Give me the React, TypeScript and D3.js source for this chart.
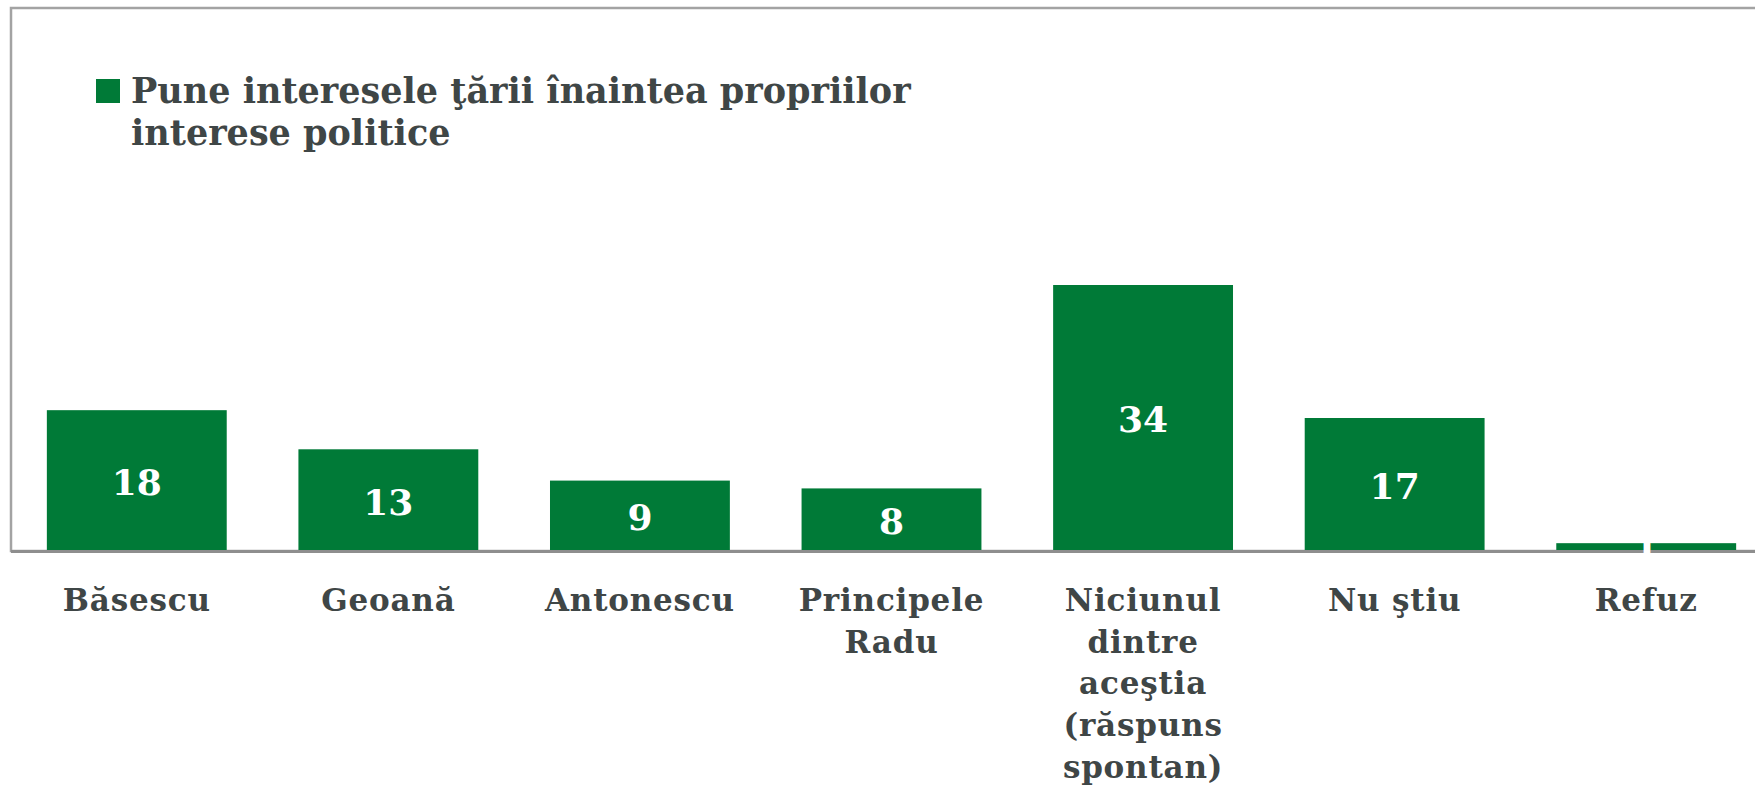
import React from "react";
import * as d3 from "d3";

const categories = [
  "Băsescu",
  "Geoană",
  "Antonescu",
  "Principele Radu",
  "Niciunul dintre aceştia (răspuns spontan)",
  "Nu ştiu",
  "Refuz",
];
const values = [18, 13, 9, 8, 34, 17, 1];
const seriesName = "Pune interesele ţării înaintea propriilor interese politice";
const legendLines = ["Pune interesele ţării înaintea propriilor", "interese politice"];

const W = 1755;
const H = 785;
const GREEN = "#007a37";
const TEXT = "#3f4646";
const FONT = "'DejaVu Serif', Georgia, serif";

function wrap(label: string, maxW: number, font: string): string[] {
  const c = document.createElement("canvas").getContext("2d");
  if (!c) return [label];
  c.font = font;
  const words = label.split(" ");
  const lines: string[] = [];
  let cur = "";
  for (const w of words) {
    const t = cur ? cur + " " + w : w;
    if (cur && c.measureText(t).width > maxW) {
      lines.push(cur);
      cur = w;
    } else cur = t;
  }
  if (cur) lines.push(cur);
  return lines;
}

export default function App() {
  const x = d3
    .scaleBand<string>()
    .domain(categories)
    .range([11, 1772])
    .paddingInner(0.285)
    .paddingOuter(0.1425);
  const y = d3.scaleLinear().domain([0, 34]).range([551, 285]);
  const catFont = `bold 31px ${FONT}`;

  return (
    <svg
      width={W}
      height={H}
      style={{ position: "absolute", left: 0, top: 0, background: "#fff" }}
      fontFamily={FONT}
    >
      <rect x={0} y={0} width={W} height={H} fill="#fff" />
      {/* plot frame */}
      <rect x={11} y={8} width={1800} height={543} fill="none" stroke="#a3a3a3" strokeWidth={2.5} />
      {/* bars */}
      {categories.map((c, i) => (
        <rect
          key={c}
          x={x(c)}
          y={y(values[i])}
          width={x.bandwidth()}
          height={y(0) - y(values[i])}
          fill={GREEN}
        />
      ))}
      {/* axis */}
      <line x1={11} x2={W} y1={551.5} y2={551.5} stroke="#8e8e8e" strokeWidth={3} />
      {/* value labels */}
      {categories.map((c, i) => (
        <text
          key={"v" + c}
          x={(x(c) as number) + x.bandwidth() / 2}
          y={(y(values[i]) + y(0)) / 2}
          dy="0.4em"
          textAnchor="middle"
          fill="#fff"
          fontWeight="bold"
          fontSize={36}
        >
          {values[i]}
        </text>
      ))}
      {/* category labels */}
      {categories.map((c) => {
        const lines = wrap(c, x.bandwidth(), catFont);
        return (
          <text
            key={"c" + c}
            x={(x(c) as number) + x.bandwidth() / 2}
            y={611}
            textAnchor="middle"
            fill={TEXT}
            fontWeight="bold"
            fontSize={31}
            letterSpacing={0.8}
          >
            {lines.map((l, j) => (
              <tspan key={j} x={(x(c) as number) + x.bandwidth() / 2} dy={j === 0 ? 0 : 41.7}>
                {l}
              </tspan>
            ))}
          </text>
        );
      })}
      {/* legend */}
      <g aria-label={seriesName}>
        <rect x={96} y={79} width={24} height={24} fill={GREEN} />
        {legendLines.map((l, j) => (
          <text key={j} x={131} y={103 + j * 42} fill={TEXT} fontWeight="bold" fontSize={35}>
            {l}
          </text>
        ))}
      </g>
    </svg>
  );
}
